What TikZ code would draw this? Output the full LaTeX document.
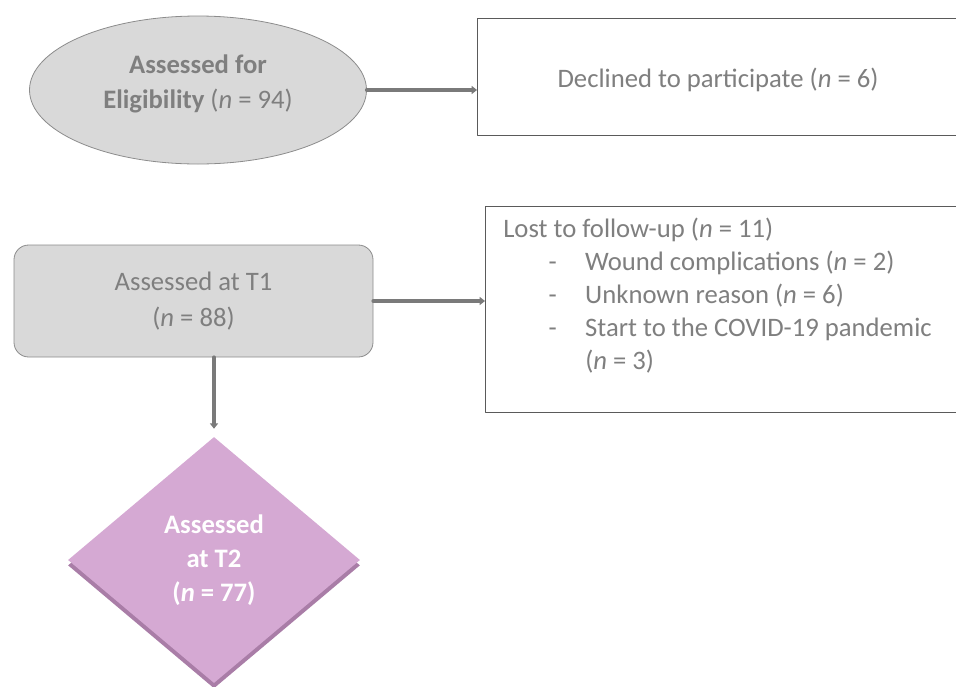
\documentclass[tikz,border=0pt]{standalone}
\usepackage{fontspec}
\setmainfont{Carlito}
\usetikzlibrary{shapes.geometric,arrows.meta,shadows,positioning}

\definecolor{boxgray}{HTML}{D9D9D9}
\definecolor{textgray}{HTML}{7F7F7F}
\definecolor{linegray}{HTML}{7A7A7A}
\definecolor{edgegray}{HTML}{8C8C8C}
\definecolor{framegray}{HTML}{5A5A5A}
\definecolor{lilac}{HTML}{D5A9D3}
\definecolor{lilacdark}{HTML}{A97DA7}

\newcommand{\lostitem}[1]{\hspace*{34pt}\makebox[27.5pt][l]{-}#1}

\tikzset{
    flowarrow/.style={draw=linegray, line width=3pt, -{Triangle[length=4pt,width=6pt]}},
    outbox/.style={draw=framegray, line width=1.1pt, fill=white, rectangle, anchor=north west, inner sep=0pt},
    greybox/.style={draw=edgegray, line width=0.6pt, fill=boxgray, text=textgray, align=center},
}

\begin{document}
\begin{tikzpicture}[x=0.75pt, y=-0.75pt, line cap=round, line join=round, font=\fontsize{20}{24}\selectfont]
    \useasboundingbox (0,0) rectangle (956,686);
    \clip (0,0) rectangle (956,686);
    \node[greybox, ellipse, minimum width=252.75pt, minimum height=111pt] (ell) at (198,90) {};
    \node[text=textgray, align=center, font=\fontsize{20}{26}\selectfont\bfseries] (elltext) at (198,84)
        {Assessed for\\Eligibility \mdseries(\textit{n} = 94)};
    \node[outbox, minimum width=362.25pt, minimum height=87.75pt] (decl) at (477,18) {};
    \node[text=textgray] (decltext) at (718,80) {Declined to participate (\textit{n} = 6)};
    \node[greybox, rounded corners=11pt, minimum width=269.25pt, minimum height=84pt, font=\fontsize{20}{27}\selectfont] (t1) at (193.5,301)
        {Assessed at T1\\(\textit{n} = 88)};
    \node[outbox, minimum width=356.25pt, minimum height=154.5pt] (lost) at (485,206) {};
    \node[anchor=north west, text=textgray, align=left, inner sep=0pt, font=\fontsize{20}{24.75}\selectfont] (losttext) at ([shift={(18,12)}]lost.north west)
        {Lost to follow-up (\textit{n} = 11)\\
         \lostitem{Wound complications (\textit{n} = 2)}\\
         \lostitem{Unknown reason (\textit{n} = 6)}\\
         \lostitem{Start to the COVID-19 pandemic}\\
         \hspace*{61.5pt}(\textit{n} = 3)};
    \node[diamond, fill=lilac, inner sep=0pt, minimum width=219pt, minimum height=184.5pt, text=white, align=center,
          font=\fontsize{20}{25.5}\selectfont\bfseries,
          drop shadow={shadow xshift=0pt, shadow yshift=-4pt, fill=lilacdark, opacity=1}] (t2) at (214,560)
        {Assessed\\at T2\\(\textit{n} = 77)};
    \draw[flowarrow] (ell.east) -- (decl.west |- ell.east);
    \draw[flowarrow] (t1.east) -- (lost.west |- t1.east);
    \draw[flowarrow, shorten >=6pt] (t1.south -| t2.north) -- (t2.north);
\end{tikzpicture}
\end{document}
